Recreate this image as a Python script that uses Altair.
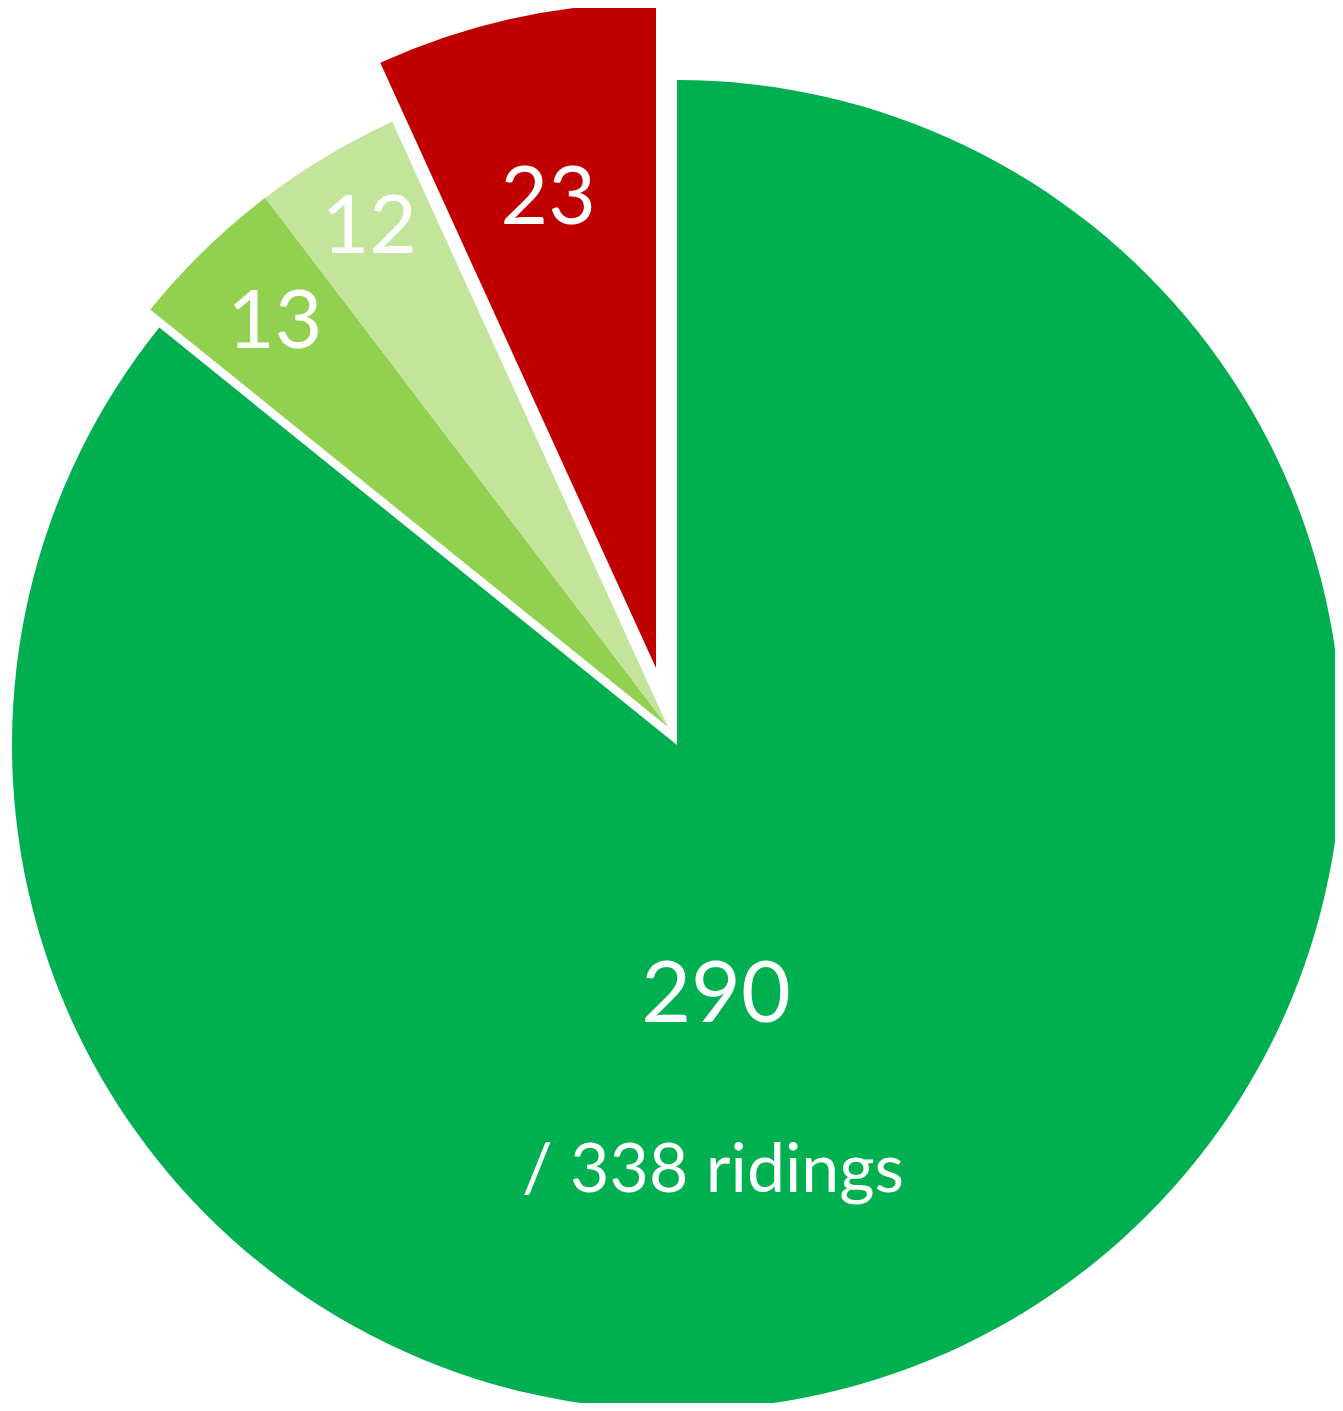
import math
import altair as alt
import pandas as pd

# ---- data ----
slices = ["290 seats", "13 seats", "12 seats", "23 seats"]
values = [290, 13, 12, 23]
colors = ["#00AF50", "#92D050", "#C3E59B", "#C00000"]
total = sum(values)
subtitle = f"/ {total} ridings"

df = pd.DataFrame({
    "slice": slices,
    "value": values,
    "order": list(range(len(values))),
    "label": [str(v) for v in values],
})

R = 665
FONT = "Lato"

base = alt.Chart(df).transform_window(
    cum="sum(value)", sort=[alt.SortField("order")], frame=[None, 0]
).transform_calculate(
    start="datum.cum - datum.value",
    mid="datum.cum - datum.value / 2",
)

theta_scale = alt.Scale(domain=[0, total], range=[0, 2 * math.pi])
color = alt.Color("slice:N", scale=alt.Scale(domain=slices, range=colors), legend=None)


def arc(names, cx, cy):
    return base.transform_filter(
        alt.FieldOneOfPredicate(field="slice", oneOf=names)
    ).mark_arc(x=cx, y=cy, outerRadius=R).encode(
        theta=alt.Theta("start:Q", scale=theta_scale),
        theta2="cum:Q",
        color=color,
    )


def label(name, cx, cy, r, size, dx=0):
    return base.transform_filter(
        alt.FieldEqualPredicate(field="slice", equal=name)
    ).mark_text(
        x=cx, y=cy, radius=r, font=FONT, fontSize=size, color="white",
        align="center", baseline="middle", dx=dx,
    ).encode(
        theta=alt.Theta("mid:Q", scale=theta_scale),
        text="label:N",
    )


main_c = (669, 737)
green_c = (660, 719)
red_c = (648, 660)

main_arc = arc([slices[0]], *main_c)
green_arc = arc([slices[1], slices[2]], *green_c)
red_arc = arc([slices[3]], *red_c)

lab13 = label(slices[1], *green_c, 564, 82)
lab12 = label(slices[2], *green_c, 582, 82)
lab23 = label(slices[3], *red_c, 480, 82, dx=-6)

lab290 = base.transform_filter(
    alt.FieldEqualPredicate(field="slice", equal=slices[0])
).mark_text(
    x=708, y=1014, font=FONT, fontSize=86, color="white",
    align="center", baseline="alphabetic",
).encode(text="label:N")

sub = alt.Chart(pd.DataFrame({"t": [subtitle]})).mark_text(
    x=705, y=1184, font=FONT, fontSize=68, color="white",
    align="center", baseline="alphabetic",
).encode(text="t:N")

chart = alt.layer(
    main_arc, green_arc, red_arc, lab13, lab12, lab23, lab290, sub
).properties(
    width=1327, height=1395, padding=0, autosize="none", background="white"
).configure_view(stroke=None)

chart.save("out.html", embed_options={"renderer": "svg", "actions": False})
